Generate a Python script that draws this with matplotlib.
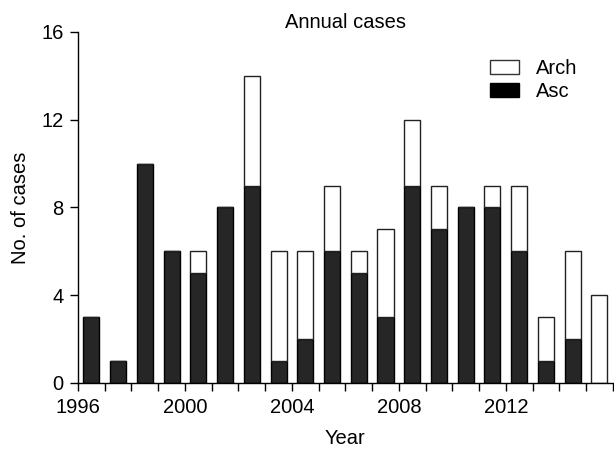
import matplotlib.pyplot as plt
import numpy as np
from matplotlib.ticker import MultipleLocator
from matplotlib.patches import Patch

plt.rcParams['font.family'] = ['Liberation Sans', 'DejaVu Sans']

# Datos
years = np.arange(1996, 2016)
asc = [3, 1, 10, 6, 5, 8, 9, 1, 2, 6, 5, 3, 9, 7, 8, 8, 6, 1, 2, 0]
arch = [0, 0, 0, 0, 1, 0, 5, 5, 4, 3, 1, 4, 3, 2, 0, 1, 3, 2, 4, 4]

fs = 14.5

fig = plt.figure(figsize=(6.14, 4.5), dpi=100)
ax = fig.add_axes([0.127, 0.149, 0.871, 0.78])

x = years + 0.5
ax.bar(x, asc, width=0.6, color='#262626', edgecolor='black', linewidth=1)
ax.bar(x, arch, width=0.6, bottom=asc, color='white', edgecolor='#222222', linewidth=1)

ax.set_xlim(1996, 2016)
ax.set_ylim(0, 16)
ax.xaxis.set_minor_locator(MultipleLocator(1))
ax.yaxis.set_major_locator(MultipleLocator(4))
ax.set_xticks([1996, 2000, 2004, 2008, 2012])
ax.set_xticklabels(['1996', '2000', '2004', '2008', '2012'])
ax.tick_params(axis='both', which='both', labelsize=fs, direction='out',
               width=1, length=5.5, pad=5)

for s in ['top', 'right']:
    ax.spines[s].set_visible(False)
for s in ['left', 'bottom']:
    ax.spines[s].set_linewidth(1)

ax.set_title('Annual cases', fontsize=fs, pad=2.5)
ax.set_xlabel('Year', fontsize=fs, labelpad=9)
ax.set_ylabel('No. of cases', fontsize=fs, labelpad=8)

handles = [Patch(facecolor='white', edgecolor='#333333', label='Arch'),
           Patch(facecolor='black', edgecolor='black', label='Asc')]
ax.legend(handles=handles, loc='upper left', bbox_to_anchor=(0.77, 0.922),
          frameon=False, fontsize=fs, handlelength=1.45, handleheight=0.7,
          labelspacing=0.2, handletextpad=0.85, borderaxespad=0, borderpad=0)

fig.savefig('out.png', dpi=100)
